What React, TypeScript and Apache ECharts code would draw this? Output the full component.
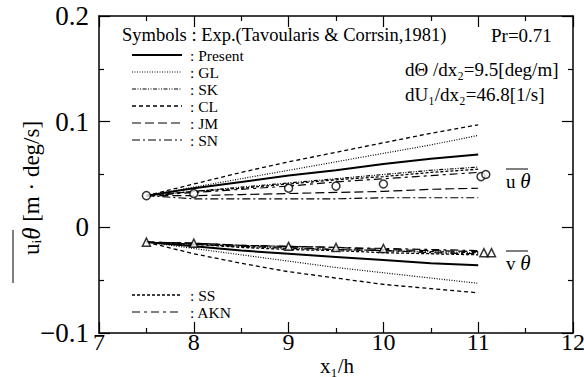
import React, { useEffect, useRef } from "react";
import * as echarts from "echarts";

// model x positions
const xModel = [7.5, 8, 8.5, 9, 9.5, 10, 10.5, 11];

// u-theta model predictions
const presentU = [0.030, 0.037, 0.043, 0.049, 0.054, 0.060, 0.065, 0.069];
const glU = [0.030, 0.038, 0.046, 0.054, 0.062, 0.070, 0.078, 0.087];
const skU = [0.030, 0.034, 0.038, 0.042, 0.046, 0.050, 0.054, 0.057];
const clU = [0.030, 0.041, 0.052, 0.062, 0.071, 0.080, 0.089, 0.097];
const jmU = [0.030, 0.030, 0.031, 0.032, 0.033, 0.034, 0.036, 0.037];
const snU = [0.030, 0.027, 0.027, 0.027, 0.027, 0.028, 0.028, 0.028];
const ssU = [0.030, 0.034, 0.037, 0.041, 0.045, 0.048, 0.052, 0.055];
const aknU = [0.030, 0.033, 0.036, 0.039, 0.043, 0.046, 0.049, 0.052];

// v-theta model predictions
const presentV = [-0.014, -0.018, -0.022, -0.025, -0.028, -0.031, -0.034, -0.036];
const glV = [-0.014, -0.020, -0.026, -0.032, -0.038, -0.043, -0.048, -0.053];
const skV = [-0.014, -0.016, -0.018, -0.020, -0.021, -0.022, -0.023, -0.024];
const clV = [-0.014, -0.025, -0.034, -0.042, -0.048, -0.054, -0.058, -0.062];
const jmV = [-0.014, -0.015, -0.017, -0.018, -0.019, -0.021, -0.022, -0.023];
const snV = [-0.014, -0.016, -0.018, -0.019, -0.021, -0.022, -0.024, -0.025];
const ssV = [-0.014, -0.016, -0.019, -0.021, -0.022, -0.024, -0.025, -0.026];
const aknV = [-0.014, -0.015, -0.017, -0.018, -0.019, -0.020, -0.021, -0.022];

// experiments (Tavoularis & Corrsin, 1981)
const expUx = [7.5, 8, 9, 9.5, 10, 11.03, 11.08];
const expU = [0.030, 0.032, 0.037, 0.039, 0.041, 0.048, 0.050];
const expVx = [7.5, 8, 9, 9.5, 10, 11.06, 11.14];
const expV = [-0.014, -0.015, -0.018, -0.019, -0.020, -0.024, -0.024];

const FONT = "Liberation Serif";

type Model = { name: string; u: number[]; v: number[]; dash: number[] | "solid"; width: number };
const models: Model[] = [
  { name: "Present", u: presentU, v: presentV, dash: "solid", width: 2 },
  { name: "GL", u: glU, v: glV, dash: [1, 1.5], width: 1.2 },
  { name: "SK", u: skU, v: skV, dash: [4, 1.5, 1, 1.5, 1, 1.5], width: 1.2 },
  { name: "CL", u: clU, v: clV, dash: [4, 3], width: 1.3 },
  { name: "JM", u: jmU, v: jmV, dash: [9, 4], width: 1.2 },
  { name: "SN", u: snU, v: snV, dash: [8, 3, 2, 3], width: 1.2 },
  { name: "SS", u: ssU, v: ssV, dash: [3, 2], width: 1.3 },
  { name: "AKN", u: aknU, v: aknV, dash: [8, 4, 3, 4], width: 1.2 },
];

const upperLegend = ["Present", "GL", "SK", "CL", "JM", "SN"];
const lowerLegend = ["SS", "AKN"];

function pairs(xs: number[], ys: number[]) {
  return xs.map((x, i) => [x, ys[i]]);
}

export default function App() {
  const ref = useRef<HTMLDivElement>(null);
  useEffect(() => {
    if (!ref.current) return;
    const chart = echarts.init(ref.current, undefined, { renderer: "svg" });

    const series: any[] = [];
    models.forEach((m) => {
      const ls = { color: "#000", width: m.width, type: m.dash };
      series.push({
        type: "line", name: m.name + " uθ", data: pairs(xModel, m.u), showSymbol: false,
        lineStyle: ls, z: 2,
      });
      series.push({
        type: "line", name: m.name + " vθ", data: pairs(xModel, m.v), showSymbol: false,
        lineStyle: ls, z: 2,
      });
    });
    series.push({
      type: "scatter", name: "Exp uθ", data: pairs(expUx, expU), symbol: "circle", symbolSize: 8,
      itemStyle: { color: "#fff", borderColor: "#000", borderWidth: 1.5 }, z: 3,
    });
    series.push({
      type: "scatter", name: "Exp vθ", data: pairs(expVx, expV), symbol: "triangle", symbolSize: 8,
      itemStyle: { color: "#fff", borderColor: "#000", borderWidth: 1.5 }, z: 3,
    });

    const graphic: any[] = [];
    const txt = (size: number, extra: any = {}) => ({
      fill: "#000", fontFamily: FONT, fontSize: size, ...extra,
    });
    graphic.push({
      type: "text", x: 122, y: 35,
      style: { text: "Symbols : Exp.(Tavoularis & Corrsin,1981)", ...txt(18.5, { textVerticalAlign: "middle" }) },
    });
    graphic.push({
      type: "text", x: 491, y: 35,
      style: { text: "Pr=0.71", ...txt(19, { textVerticalAlign: "middle" }) },
    });
    graphic.push({
      type: "text", x: 405, y: 57,
      style: {
        text: "dΘ /dx₂=9.5[deg/m]\ndU₁/dx₂=46.8[1/s]",
        ...txt(19, { lineHeight: 25, textVerticalAlign: "top" }),
      },
    });

    const ROW = 17;
    const addLegendBlock = (names: string[], y0: number) => {
      names.forEach((name, i) => {
        const m = models.find((mm) => mm.name === name)!;
        const y = y0 + i * ROW;
        graphic.push({
          type: "line",
          shape: { x1: 132, y1: y, x2: 182, y2: y },
          style: {
            stroke: "#000", lineWidth: m.width,
            lineDash: m.dash === "solid" ? null : m.dash,
          },
        });
      });
      graphic.push({
        type: "text", x: 190, y: y0 - ROW / 2,
        style: {
          text: names.map((n) => ": " + n).join("\n"),
          ...txt(15.5, { lineHeight: ROW, textVerticalAlign: "top" }),
        },
      });
    };
    addLegendBlock(upperLegend, 55);
    addLegendBlock(lowerLegend, 295);

    // curve labels with overline
    const italicTheta = (t: string, x: number, y: number) => {
      graphic.push({
        type: "text", x, y,
        style: {
          text: `{a|${t}}{t|θ}`,
          textVerticalAlign: "middle",
          rich: {
            a: { fontFamily: FONT, fontSize: 19, fill: "#000" },
            t: { fontFamily: FONT, fontSize: 21, fontStyle: "italic", fill: "#000" },
          },
        },
      });
      graphic.push({
        type: "line", shape: { x1: x, y1: y - 12, x2: x + 22, y2: y - 12 },
        style: { stroke: "#000", lineWidth: 1 },
      });
    };
    italicTheta("u ", 506, 181);
    italicTheta("v ", 506, 263);

    // y axis title
    graphic.push({
      type: "text", x: 31, y: 188, rotation: Math.PI / 2,
      style: {
        text: "{a|uᵢ}{t|θ}{a| [m · deg/s]}",
        textAlign: "center", textVerticalAlign: "middle",
        rich: {
          a: { fontFamily: FONT, fontSize: 23, fill: "#000" },
          t: { fontFamily: FONT, fontSize: 25, fontStyle: "italic", fill: "#000" },
        },
      },
    });
    graphic.push({
      type: "line", shape: { x1: 13, y1: 230, x2: 13, y2: 283 },
      style: { stroke: "#000", lineWidth: 1 },
    });

    // x axis title
    graphic.push({
      type: "text", x: 337, y: 366,
      style: { text: "x₁/h", ...txt(21, { textAlign: "center", textVerticalAlign: "middle" }) },
    });

    const axisCommon = {
      axisLine: { show: true, onZero: false, lineStyle: { color: "#000", width: 1.5 } },
      axisTick: { show: true, inside: true, length: 11, lineStyle: { color: "#000", width: 1.2 } },
      minorTick: { show: true, splitNumber: 2, length: 5, lineStyle: { color: "#000", width: 1.2 } },
      splitLine: { show: false },
      minorSplitLine: { show: false },
    };

    chart.setOption({
      animation: false,
      backgroundColor: "#fff",
      textStyle: { fontFamily: FONT },
      grid: {
        left: 99, right: 11, top: 16, bottom: 44,
        containLabel: false, outerBoundsMode: "none",
      },
      xAxis: [
        {
          type: "value", min: 7, max: 12, interval: 1, position: "bottom", ...axisCommon,
          axisLabel: { color: "#000", fontFamily: FONT, fontSize: 24, margin: -3 },
        },
        {
          type: "value", min: 7, max: 12, interval: 1, position: "top", ...axisCommon,
          axisLabel: { show: false },
        },
      ],
      yAxis: [
        {
          type: "value", min: -0.1, max: 0.2, interval: 0.1, position: "left", ...axisCommon,
          axisLabel: {
            color: "#000", fontFamily: FONT, fontSize: 27, margin: 10,
            formatter: (v: number) => (Math.abs(v) < 1e-9 ? "0" : v.toFixed(1).replace("-", "−")),
          },
        },
        {
          type: "value", min: -0.1, max: 0.2, interval: 0.1, position: "right", ...axisCommon,
          axisLabel: { show: false },
        },
      ],
      series,
      graphic,
    });
    return () => chart.dispose();
  }, []);
  return (
    <div
      ref={ref}
      style={{ position: "fixed", left: 0, top: 0, width: 584, height: 377, background: "#fff" }}
    />
  );
}
